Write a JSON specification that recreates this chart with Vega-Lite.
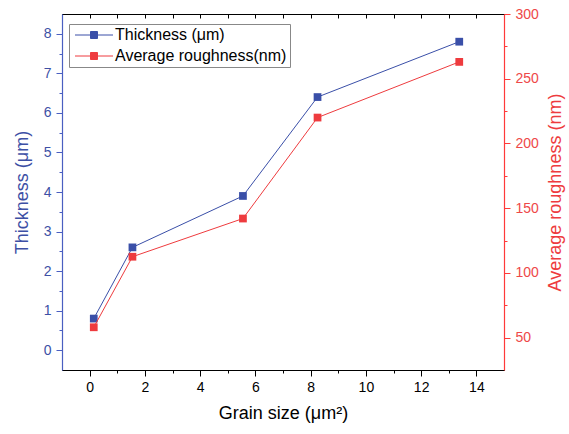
{
  "$schema": "https://vega.github.io/schema/vega-lite/v6.json",
  "autosize": "none",
  "width": 442,
  "height": 356,
  "padding": {"left": 62, "top": 14, "right": 65, "bottom": 64},
  "config": {
    "font": "Liberation Sans",
    "view": {"stroke": "black", "strokeWidth": 1},
    "axis": {"grid": false, "labelFontSize": 14, "titleFontSize": 18, "titleFontWeight": "normal", "domainWidth": 1.2}
  },
  "data": {"values": [
    {"grain": 0.15, "thickness": 0.8, "roughness": 58},
    {"grain": 1.55, "thickness": 2.6, "roughness": 112.5},
    {"grain": 5.55, "thickness": 3.9, "roughness": 142},
    {"grain": 8.25, "thickness": 6.4, "roughness": 220},
    {"grain": 13.38, "thickness": 7.8, "roughness": 263}
  ]},
  "layer": [
    {
      "layer": [
        {"mark": {"type": "line", "strokeWidth": 1}},
        {"mark": {"type": "point", "shape": "square", "filled": true, "size": 60, "opacity": 1}}
      ],
      "encoding": {
        "x": {"field": "grain", "type": "quantitative", "scale": {"domain": [-1, 15], "nice": false, "zero": false},
          "axis": {"orient": "bottom", "title": "Grain size (μm²)", "values": [0,1,2,3,4,5,6,7,8,9,10,11,12,13,14],
            "labelExpr": "datum.value % 2 === 0 ? format(datum.value, 'd') : ''",
            "tickSize": {"condition": {"test": "datum.value % 2 === 0", "value": 6}, "value": 3},
            "labelPadding": 4, "titlePadding": 10, "domainColor": "black", "tickColor": "black", "labelColor": "black", "titleColor": "black"}},
        "y": {"field": "thickness", "type": "quantitative", "scale": {"domain": [-0.5, 8.5], "nice": false, "zero": false},
          "axis": {"orient": "left", "title": "Thickness (μm)", "values": [0,0.5,1,1.5,2,2.5,3,3.5,4,4.5,5,5.5,6,6.5,7,7.5,8],
            "labelExpr": "datum.value % 1 === 0 ? format(datum.value, 'd') : ''",
            "tickSize": {"condition": {"test": "datum.value % 1 === 0", "value": 6}, "value": 3},
            "labelPadding": 5, "titlePadding": 12,
            "domainColor": "#4A5FC1", "tickColor": "#4A5FC1", "labelColor": "#3D50A5", "titleColor": "#3D50A5"}},
        "color": {"datum": "Thickness (μm)", "type": "nominal",
          "scale": {"domain": ["Thickness (μm)", "Average roughness(nm)"], "range": ["#3A4FA8", "#EE3B3E"]},
          "legend": {"title": null, "orient": "none", "legendX": 7, "legendY": 10, "labelFontSize": 16, "labelColor": "black",
            "labelLimit": 400,
            "strokeColor": "#888888", "padding": 3, "rowPadding": 5, "labelOffset": 27,
            "symbolType": "M-1,0L6.6,0M2.1,-0.7L3.5,-0.7L3.5,0.7L2.1,0.7Z", "symbolSize": 100, "symbolStrokeWidth": 1,
            "fillColor": "white",
            "encode": {"symbols": {"update": {"stroke": {"scale": "color", "field": "value"}, "fill": {"scale": "color", "field": "value"}, "strokeWidth": {"value": 1}, "opacity": {"value": 1}}}}}}
      }
    },
    {
      "layer": [
        {"mark": {"type": "line", "strokeWidth": 1}},
        {"mark": {"type": "point", "shape": "square", "filled": true, "size": 60, "opacity": 1}}
      ],
      "encoding": {
        "x": {"field": "grain", "type": "quantitative", "scale": {"domain": [-1, 15], "nice": false, "zero": false},
          "axis": {"orient": "top", "title": null, "labels": false, "values": [0,1,2,3,4,5,6,7,8,9,10,11,12,13,14],
            "tickSize": -4, "domainColor": "black", "tickColor": "black"}},
        "y": {"field": "roughness", "type": "quantitative", "scale": {"domain": [25, 300], "nice": false, "zero": false},
          "axis": {"orient": "right", "title": "Average roughness (nm)", "titleAngle": 270, "titleBaseline": "top", "values": [50,75,100,125,150,175,200,225,250,275,300],
            "labelExpr": "datum.value % 50 === 0 ? format(datum.value, 'd') : ''",
            "tickSize": {"condition": {"test": "datum.value % 50 === 0", "value": 6}, "value": 3},
            "labelPadding": 5, "titlePadding": 8,
            "domainColor": "#FF3A3A", "tickColor": "#FF3A3A", "labelColor": "#EE4848", "titleColor": "#EE3B3E"}},
        "color": {"datum": "Average roughness(nm)", "type": "nominal"}
      }
    }
  ],
  "resolve": {"scale": {"y": "independent", "x": "independent"}}
}
